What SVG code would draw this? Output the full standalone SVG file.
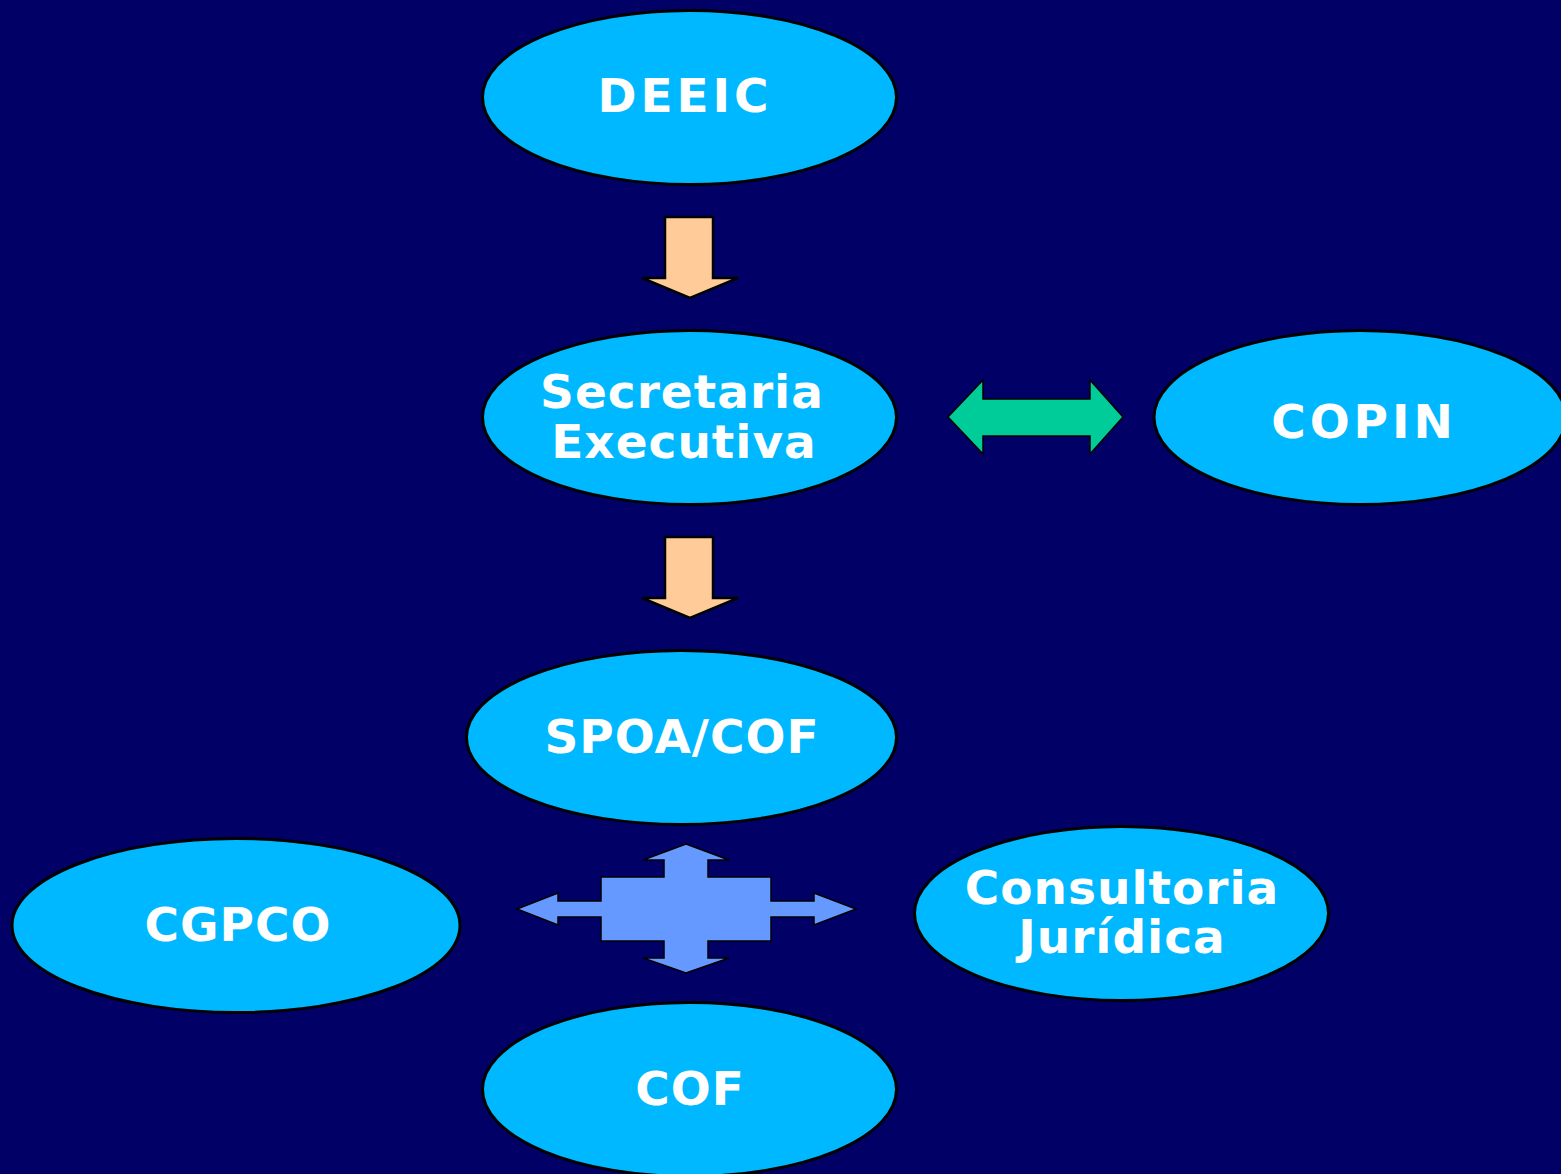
<svg xmlns="http://www.w3.org/2000/svg" width="1561" height="1174" viewBox="0 0 1561 1174">
<style>
.node ellipse{fill:#00B8FF;stroke:#000;stroke-width:3}
.node text{fill:#fff;font-family:"DejaVu Sans",Verdana,sans-serif;font-weight:bold;font-size:47px;letter-spacing:1px;text-anchor:middle}
.node text.wide{letter-spacing:4px}
.down{fill:#FFCC99;stroke:#000;stroke-width:2.5;stroke-linejoin:miter}
.green{fill:#00CC99;stroke:#000;stroke-width:1.5}
.blue{fill:#6699FF;stroke:#000;stroke-width:1.5}
</style>
<rect width="1561" height="1174" fill="#000066"/>
<g id="connectors">
<polygon class="down" points="665,217 713,217 713,278 738,278 690,298 642,278 665,278"/>
<polygon class="down" points="665,537 713,537 713,598 738,598 690,618 642,598 665,598"/>
<polygon class="green" points="948,417 983,380 983,399 1090,399 1090,380 1123,417 1090,454 1090,436 983,436 983,454"/>
<polygon class="blue" points="686,844 729,860 708,860 708,877 771,877 771,901 814,901 814,893 856,909 814,925 814,917 771,917 771,941 708,941 708,958 729,958 686,973 643,958 664,958 664,941 601,941 601,917 558,917 558,925 517,909 558,893 558,901 601,901 601,877 664,877 664,860 643,860"/>
</g>
<g id="DEEIC" class="node"><ellipse cx="689.5" cy="97.5" rx="207" ry="87"/><text class="wide" x="685" y="112">DEEIC</text></g>
<g id="Secretaria" class="node"><ellipse cx="689.5" cy="417.5" rx="207" ry="87"/><text x="682" y="408">Secretaria</text><text x="684" y="458">Executiva</text></g>
<g id="COPIN" class="node"><ellipse cx="1360" cy="417.5" rx="206" ry="87"/><text class="wide" x="1364" y="438">COPIN</text></g>
<g id="SPOA" class="node"><ellipse cx="681.5" cy="737.5" rx="215" ry="87"/><text x="682" y="753">SPOA/COF</text></g>
<g id="CGPCO" class="node"><ellipse cx="236" cy="925.5" rx="224" ry="87"/><text x="238" y="941">CGPCO</text></g>
<g id="Consultoria" class="node"><ellipse cx="1121.5" cy="913.5" rx="207" ry="87"/><text x="1122" y="904">Consultoria</text><text x="1122" y="953">Jurídica</text></g>
<g id="COF" class="node"><ellipse cx="689.5" cy="1089.5" rx="207" ry="87"/><text x="690" y="1105">COF</text></g>
</svg>
